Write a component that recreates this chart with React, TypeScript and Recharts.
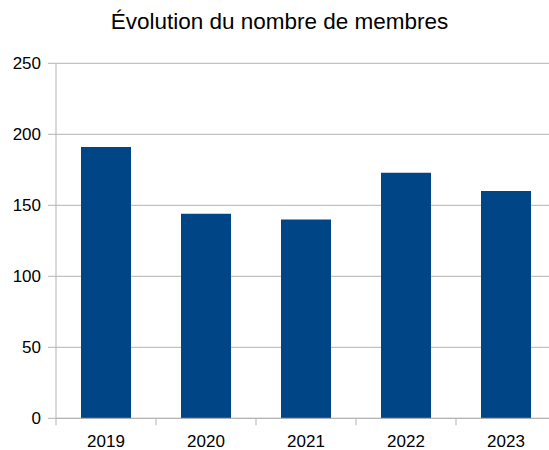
import React from 'react';
import { BarChart, Bar, XAxis, YAxis, CartesianGrid } from 'recharts';

// Adhérents par année
const years = ['2019', '2020', '2021', '2022', '2023'];
const members = [191, 144, 140, 173, 160];
const yTicks = [0, 50, 100, 150, 200, 250];

const data = years.map((year, i) => ({ year, membres: members[i] }));

const FONT = '"Liberation Sans", Arial, sans-serif';
const GRID = '#b3b3b3';

// tick mark sits on the category boundary, label on the category centre
const YearTick = ({ x, y, payload }: any) => {
  const half = payload?.offset ?? 0;
  return (
    <g>
      <line x1={x - half} x2={x - half} y1={y} y2={y + 7} stroke={GRID} strokeWidth={1} />
      <text x={x} y={y + 17} dy="0.71em" textAnchor="middle" fontSize={17} fill="#000" fontFamily={FONT}>
        {payload.value}
      </text>
    </g>
  );
};

export default function App() {
  // pinned to the page corner; the plot runs a little past the right edge like the original
  return (
    <div style={{ position: 'absolute', top: 0, left: 0, width: 549, height: 450, overflow: 'hidden', background: '#fff' }}>
      <div
        style={{
          position: 'absolute',
          top: 11,
          left: 0,
          width: 559,
          textAlign: 'center',
          fontFamily: FONT,
          fontSize: 22.5,
          lineHeight: '22px',
          color: '#000',
        }}
      >
        Évolution du nombre de membres
      </div>
      <BarChart
        width={560}
        height={450}
        data={data}
        margin={{ top: 63.3, right: 4, left: 0, bottom: 0 }}
        barCategoryGap="25%"
      >
        <CartesianGrid vertical={false} stroke={GRID} strokeWidth={1} />
        <XAxis
          dataKey="year"
          height={31.7}
          axisLine={{ stroke: GRID }}
          tickLine={false}
          tickSize={0}
          tickMargin={0}
          tick={<YearTick />}
          interval={0}
        />
        <YAxis
          width={56}
          domain={[0, 250]}
          ticks={yTicks}
          axisLine={{ stroke: GRID }}
          tickLine={{ stroke: GRID }}
          tickSize={8}
          tickMargin={7}
          tick={{ fontSize: 17, fill: '#000', fontFamily: FONT }}
        />
        <Bar dataKey="membres" fill="#004586" isAnimationActive={false} />
      </BarChart>
    </div>
  );
}
